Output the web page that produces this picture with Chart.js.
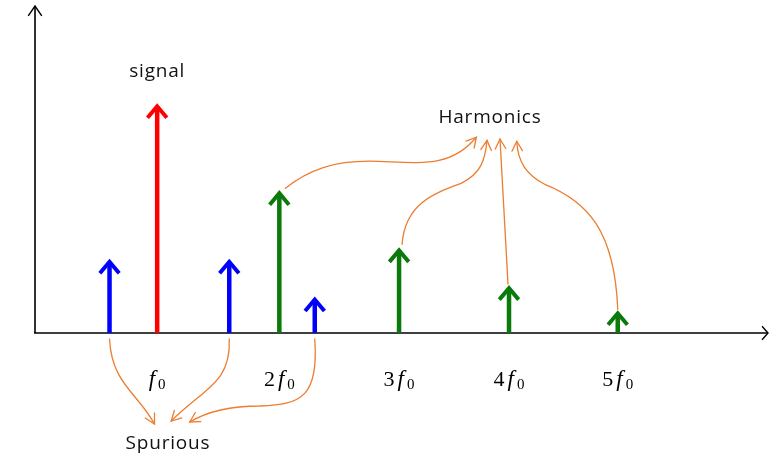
<!DOCTYPE html>
<html lang="en">
<head>
  <meta charset="utf-8">
  <title>Signal, harmonics and spurious tones</title>
  <script src="https://cdn.jsdelivr.net/npm/chart.js@4.4.1/dist/chart.umd.min.js"></script>
  <style>
    body { margin: 0; padding: 0; background: #fff; }
    #wrap { width: 769px; height: 455px; }
  </style>
</head>
<body>
  <div id="wrap"><canvas id="chart" width="769" height="455"></canvas></div>
  <script>
    // frequencies in units of f0, amplitudes relative to the signal
    const signalFreq = [1.0];
    const signalAmp = [1.0];
    const harmFreq = [2.0, 2.98, 3.88, 4.77];
    const harmAmp = [0.62, 0.37, 0.205, 0.095];
    const spurFreq = [0.61, 1.59, 2.29];
    const spurAmp = [0.32, 0.32, 0.155];

    const tickPos = [1.0, 2.0, 2.98, 3.88, 4.77];
    const tickNum = ['', '2', '3', '4', '5'];

    const orange = '#ED7D31';

    const pts = (xs, ys) => xs.map((x, i) => ({ x: x, y: ys[i] }));

    function chevron(ctx, x, y, ang, len, spread) {
      ctx.beginPath();
      ctx.moveTo(x - len * Math.cos(ang - spread), y - len * Math.sin(ang - spread));
      ctx.lineTo(x, y);
      ctx.lineTo(x - len * Math.cos(ang + spread), y - len * Math.sin(ang + spread));
      ctx.stroke();
    }

    // stems with arrow heads, drawn from each dataset's points
    const stemPlugin = {
      id: 'stems',
      afterDatasetsDraw(chart) {
        const ctx = chart.ctx;
        const y0 = chart.scales.y.getPixelForValue(0);
        ctx.save();
        ctx.lineCap = 'butt';
        ctx.lineJoin = 'miter';
        chart.data.datasets.forEach((ds, i) => {
          const meta = chart.getDatasetMeta(i);
          ctx.strokeStyle = ds.borderColor;
          meta.data.forEach(p => {
            ctx.lineWidth = 4.5;
            ctx.beginPath();
            ctx.moveTo(p.x, y0);
            ctx.lineTo(p.x, p.y + 2);
            ctx.stroke();
            ctx.lineWidth = 4;
            chevron(ctx, p.x, p.y + 2, -Math.PI / 2, 15, 0.7);
          });
        });
        ctx.restore();
      }
    };

    // axes with open arrow heads
    const axesPlugin = {
      id: 'axes',
      beforeDatasetsDraw(chart) {
        const ctx = chart.ctx;
        const a = chart.chartArea;
        const y0 = chart.scales.y.getPixelForValue(0);
        const x0 = a.left;
        ctx.save();
        ctx.strokeStyle = '#000';
        ctx.lineWidth = 1.6;
        ctx.beginPath();
        ctx.moveTo(x0, y0);
        ctx.lineTo(x0, a.top);
        ctx.moveTo(x0 - 1, y0);
        ctx.lineTo(a.right, y0);
        ctx.stroke();
        ctx.lineWidth = 1.4;
        chevron(ctx, x0, a.top, -Math.PI / 2, 12, 0.6);
        chevron(ctx, a.right, y0, 0, 9, 0.85);
        ctx.restore();
      }
    };

    function curve(ctx, segs) {
      ctx.beginPath();
      ctx.moveTo(segs[0][0], segs[0][1]);
      for (let i = 1; i < segs.length; i++) {
        const s = segs[i];
        if (s.length === 2) ctx.lineTo(s[0], s[1]);
        else ctx.bezierCurveTo(s[0], s[1], s[2], s[3], s[4], s[5]);
      }
      ctx.stroke();
      const last = segs[segs.length - 1];
      const n = last.length;
      const ex = last[n - 2], ey = last[n - 1];
      let px, py;
      if (n === 2) {
        const prev = segs[segs.length - 2];
        px = prev[prev.length - 2]; py = prev[prev.length - 1];
      } else { px = last[2]; py = last[3]; }
      chevron(ctx, ex, ey, Math.atan2(ey - py, ex - px), 11, 0.5);
    }

    // labels, tick labels and the orange pointer curves
    const notePlugin = {
      id: 'notes',
      afterDraw(chart) {
        const ctx = chart.ctx;
        const xs = chart.scales.x, ys = chart.scales.y;
        const y0 = ys.getPixelForValue(0);
        const X = v => xs.getPixelForValue(v);
        const Y = v => ys.getPixelForValue(v);
        ctx.save();

        ctx.fillStyle = '#111';
        ctx.font = '19px "Open Sans"';
        ctx.textAlign = 'center';
        ctx.textBaseline = 'alphabetic';
        ctx.letterSpacing = '0.8px';
        ctx.fillText('signal', X(signalFreq[0]), 77);
        ctx.fillText('Harmonics', 490, 123);
        ctx.fillText('Spurious', 168, 449);
        ctx.letterSpacing = '0px';

        // f0, 2f0, ... under the axis
        ctx.fillStyle = '#000';
        ctx.textAlign = 'left';
        tickPos.forEach((v, i) => {
          const num = tickNum[i];
          ctx.font = '22px "Liberation Serif"';
          const wn = num ? ctx.measureText(num).width + 3 : 0;
          ctx.font = 'italic 23px "Liberation Serif"';
          const wf = ctx.measureText('f').width + 3;
          ctx.font = '15px "Liberation Serif"';
          const ws = ctx.measureText('0').width;
          let x = X(v) - (wn + wf + ws) / 2;
          const base = 386;
          if (num) {
            ctx.font = '22px "Liberation Serif"';
            ctx.fillText(num, x, base);
            x += wn;
          }
          ctx.font = 'italic 23px "Liberation Serif"';
          ctx.fillText('f', x, base);
          x += wf;
          ctx.font = '15px "Liberation Serif"';
          ctx.fillText('0', x, base + 3);
        });

        ctx.strokeStyle = orange;
        ctx.lineWidth = 1.3;
        ctx.lineCap = 'round';

        // spurious tones
        const s0 = X(spurFreq[0]), s1 = X(spurFreq[1]), s2 = X(spurFreq[2]);
        curve(ctx, [[s0, y0 + 6], [s0 + 2, y0 + 50, s0 + 28, y0 + 60, s0 + 45, y0 + 91]]);
        curve(ctx, [[s1, y0 + 6], [s1 + 2, y0 + 50, s1 - 25, y0 + 55, s1 - 58, y0 + 88]]);
        curve(ctx, [[s2, y0 + 6], [s2 + 4, y0 + 62, s2 - 12, y0 + 72, s2 - 55, y0 + 73],
                    [s2 - 90, y0 + 73, s2 - 110, y0 + 80, s2 - 125, y0 + 89]]);

        // harmonics
        const h = harmFreq.map(X);
        const ht = harmAmp.map(Y);
        curve(ctx, [[h[0] + 6, ht[0] - 3], [h[0] + 30, ht[0] - 22, h[0] + 55, ht[0] - 30, h[0] + 90, ht[0] - 30],
                    [h[0] + 140, ht[0] - 29, h[0] + 170, ht[0] - 22, h[0] + 197, ht[0] - 54]]);
        curve(ctx, [[h[1] + 3, ht[1] - 4], [h[1] + 6, ht[1] - 45, h[1] + 35, ht[1] - 55, h[1] + 62, ht[1] - 65],
                    [h[1] + 82, ht[1] - 75, h[1] + 86, ht[1] - 88, h[1] + 88, ht[1] - 108]]);
        curve(ctx, [[h[2] - 1, ht[2] - 2], [h[2] - 9, ht[2] - 147]]);
        curve(ctx, [[h[3], ht[3] - 2], [h[3] - 3, ht[3] - 80, h[3] - 30, ht[3] - 110, h[3] - 73, ht[3] - 127],
                    [h[3] - 92, ht[3] - 137, h[3] - 100, ht[3] - 150, h[3] - 101, ht[3] - 170]]);

        ctx.restore();
      }
    };

    new Chart(document.getElementById('chart'), {
      type: 'scatter',
      data: {
        datasets: [
          { label: 'spurious', data: pts(spurFreq, spurAmp), borderColor: '#0000ff', pointRadius: 0 },
          { label: 'signal', data: pts(signalFreq, signalAmp), borderColor: '#ff0000', pointRadius: 0 },
          { label: 'harmonics', data: pts(harmFreq, harmAmp), borderColor: '#0a7a0a', pointRadius: 0 }
        ]
      },
      options: {
        responsive: false,
        animation: false,
        devicePixelRatio: 1,
        layout: { padding: { left: 35, right: 1, top: 6, bottom: 122 } },
        scales: {
          x: { type: 'linear', min: 0, max: 6, display: false },
          y: { type: 'linear', min: 0, max: 1.43, display: false }
        },
        plugins: { legend: { display: false }, tooltip: { enabled: false } }
      },
      plugins: [axesPlugin, stemPlugin, notePlugin]
    });
  </script>
</body>
</html>
